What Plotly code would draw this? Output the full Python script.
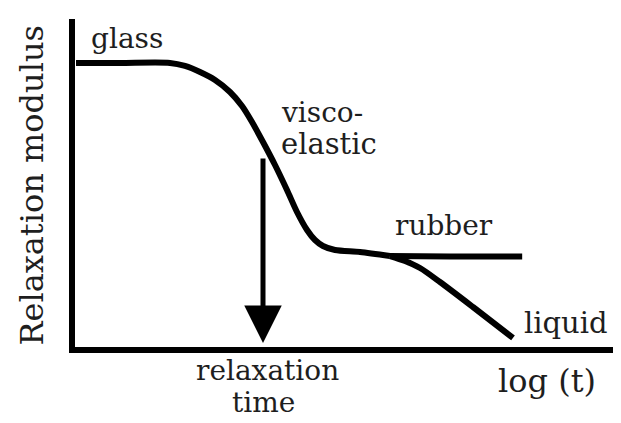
import plotly.graph_objects as go

# Schematic relaxation-modulus curve (arbitrary units, x = log(t), y = modulus)
main_x = [0.73, 8.74, 17.85, 20.58, 23.32, 26.05, 28.78, 30.97, 32.79, 34.79,
          36.98, 39.16, 40.98, 42.81, 44.26, 45.72, 47.91, 52.46, 57.92]
main_y = [86.97, 86.97, 86.97, 86.06, 84.24, 81.82, 78.18, 73.94, 69.09, 63.03,
          56.06, 48.48, 41.82, 36.36, 33.33, 31.52, 30.30, 29.70, 28.48]

rubber_x = [57.92, 68.85, 82.0]
rubber_y = [28.48, 28.3, 28.3]

liquid_x = [57.92, 60.66, 63.39, 67.03, 73.04, 80.33]
liquid_y = [28.48, 26.97, 24.85, 20.61, 13.03, 3.64]

relax_time_x = 34.79
relax_arrow_top = 58.5
relax_arrow_tip = 2.1

labels = ["glass", "visco-", "elastic", "rubber", "liquid", "log (t)", "relaxation", "time"]
label_x = [10.02, 45.54, 46.81, 67.76, 89.98, 86.52, 35.52, 34.97]
label_y = [94.24, 71.82, 62.42, 37.58, 8.18, -9.39, -6.2, -15.9]
label_size = [28, 28, 29, 28, 29, 32, 28, 28]

y_title = "Relaxation modulus"

X_RANGE = [0.546, 100]
Y_RANGE = [0.91, 100.3]

FONT = "DejaVu Serif"
TXT = "#1e1e1e"

fig = go.Figure()
for xs, ys in [(main_x, main_y), (rubber_x, rubber_y), (liquid_x, liquid_y)]:
    fig.add_trace(go.Scatter(x=xs, y=ys, mode="lines",
                             line=dict(color="black", width=6, shape="spline", smoothing=0.8),
                             hoverinfo="skip", showlegend=False, cliponaxis=False))

fig.add_annotation(x=relax_time_x, y=relax_arrow_tip, ax=relax_time_x, ay=relax_arrow_top,
                   xref="x", yref="y", axref="x", ayref="y", text="",
                   showarrow=True, arrowhead=2, arrowsize=1.5, arrowwidth=5, arrowcolor="black")


def to_paper_y(v):
    return (v - Y_RANGE[0]) / (Y_RANGE[1] - Y_RANGE[0])


for t, x, y, s in zip(labels, label_x, label_y, label_size):
    fig.add_annotation(x=x, y=to_paper_y(y), xref="x", yref="paper", text=t, showarrow=False,
                       xanchor="center", yanchor="middle",
                       font=dict(family=FONT, size=s, color=TXT))

fig.add_annotation(x=-0.0788, y=0.495, xref="paper", yref="paper", text=y_title,
                   textangle=-90, showarrow=False, xanchor="center", yanchor="middle",
                   font=dict(family=FONT, size=32, color=TXT))

fig.update_layout(
    width=613, height=415,
    margin=dict(l=67, r=0, t=11, b=76),
    paper_bgcolor="white", plot_bgcolor="white",
    xaxis=dict(range=X_RANGE, showgrid=False, zeroline=False, showticklabels=False,
               ticks="", showline=True, linewidth=6, linecolor="black", fixedrange=True),
    yaxis=dict(range=Y_RANGE, showgrid=False, zeroline=False, showticklabels=False,
               ticks="", showline=True, linewidth=6, linecolor="black", fixedrange=True),
)

fig.write_html("out.html")
